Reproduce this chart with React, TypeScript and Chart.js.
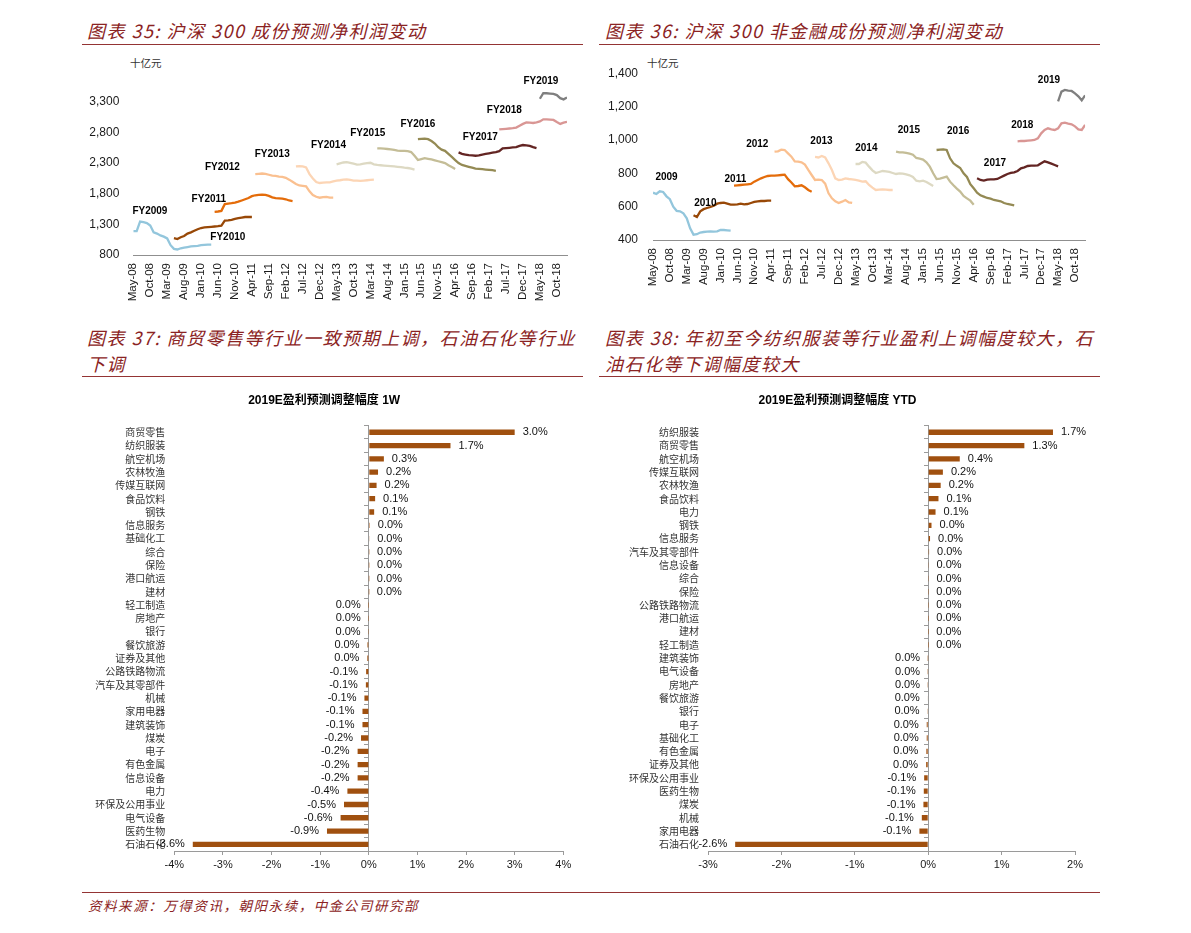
import React, { useEffect, useRef } from 'react';
import { Chart, registerables } from 'chart.js';

Chart.register(...registerables);

const LATIN = '"Liberation Sans", Arial, "Noto Sans CJK SC", sans-serif';
const CJK = '"Noto Sans CJK SC", sans-serif';
const HEAD_RED = '#8B2323';
const RULE_RED = '#943434';

// ---------------- shared monthly x axis (month 0 = May-08) ----------------
const xTickLabels = ['May-08', 'Oct-08', 'Mar-09', 'Aug-09', 'Jan-10', 'Jun-10', 'Nov-10', 'Apr-11', 'Sep-11', 'Feb-12', 'Jul-12', 'Dec-12', 'May-13', 'Oct-13', 'Mar-14', 'Aug-14', 'Jan-15', 'Jun-15', 'Nov-15', 'Apr-16', 'Sep-16', 'Feb-17', 'Jul-17', 'Dec-17', 'May-18', 'Oct-18'];
const xTickStep = 5;
const xMonthMax = 128;
const fyStarts = [0, 12, 24, 36, 48, 60, 72, 84, 96, 108, 120];
const fyColors = ['#93C6DC', '#984807', '#E46C0A', '#FAC090', '#FCD5B5', '#DDD9C3', '#C4BD97', '#948A54', '#632523', '#D99694', '#7F7F7F'];

// ---------------- 图表35 沪深300 (十亿元) ----------------
const hsNames = ['FY2009', 'FY2010', 'FY2011', 'FY2012', 'FY2013', 'FY2014', 'FY2015', 'FY2016', 'FY2017', 'FY2018', 'FY2019'];
const hsFY2009 = [1190, 1190, 1345, 1335, 1320, 1280, 1170, 1150, 1120, 1100, 1070, 960, 900, 890, 910, 920, 930, 940, 945, 950, 960, 965, 970, 970];
const hsFY2010 = [1075, 1060, 1090, 1110, 1150, 1170, 1195, 1220, 1240, 1250, 1255, 1260, 1265, 1270, 1280, 1360, 1365, 1375, 1390, 1400, 1410, 1420, 1420, 1420];
const hsFY2011 = [1505, 1510, 1520, 1630, 1640, 1645, 1655, 1670, 1690, 1710, 1730, 1760, 1775, 1780, 1785, 1780, 1765, 1740, 1730, 1725, 1720, 1710, 1690, 1680];
const hsFY2012 = [2120, 2125, 2130, 2125, 2110, 2095, 2090, 2080, 2075, 2060, 2030, 1995, 1960, 1935, 1930, 1920, 1840, 1780, 1750, 1735, 1745, 1750, 1735, 1735];
const hsFY2013 = [2245, 2250, 2245, 2230, 2120, 2050, 1990, 1975, 1980, 1985, 1985, 2000, 2015, 2020, 2030, 2035, 2025, 2015, 2015, 2010, 2015, 2020, 2025, 2030];
const hsFY2014 = [2280, 2295, 2310, 2315, 2305, 2290, 2275, 2280, 2290, 2300, 2305, 2280, 2270, 2265, 2260, 2255, 2250, 2245, 2240, 2235, 2225, 2220, 2210, 2195];
const hsFY2015 = [2540, 2540, 2535, 2530, 2525, 2515, 2505, 2500, 2500, 2495, 2480, 2420, 2350, 2365, 2380, 2370, 2360, 2345, 2330, 2315, 2300, 2265, 2235, 2205];
const hsFY2016 = [2690, 2695, 2700, 2690, 2660, 2620, 2560, 2520, 2500, 2450, 2400, 2350, 2300, 2270, 2255, 2240, 2225, 2210, 2205, 2200, 2195, 2190, 2185, 2175];
const hsFY2017 = [2475, 2450, 2440, 2430, 2425, 2420, 2425, 2440, 2450, 2460, 2470, 2480, 2495, 2540, 2545, 2550, 2555, 2560, 2580, 2595, 2590, 2580, 2560, 2545];
const hsFY2018 = [2850, 2855, 2860, 2865, 2870, 2880, 2910, 2940, 2965, 2960, 2955, 2965, 2980, 3015, 3015, 3010, 3005, 2970, 2940, 2960, 2975];
const hsFY2019 = [3350, 3440, 3440, 3435, 3430, 3410, 3360, 3340, 3370];
const hsSeries = [hsFY2009, hsFY2010, hsFY2011, hsFY2012, hsFY2013, hsFY2014, hsFY2015, hsFY2016, hsFY2017, hsFY2018, hsFY2019];
const hsLabelMonth = [4.9, 27.9, 22.3, 26.3, 41, 57.6, 69.2, 84, 102.4, 109.5, 120.3];
const hsLabelValue = [1518, 1082, 1704, 2236, 2449, 2593, 2784, 2928, 2726, 3167, 3635];
const hsYTicks = [800, 1300, 1800, 2300, 2800, 3300];
const hsYMin = 800;
const hsYMax = 3800;

// ---------------- 图表36 沪深300 非金融 (十亿元) ----------------
const nfNames = ['2009', '2010', '2011', '2012', '2013', '2014', '2015', '2016', '2017', '2018', '2019'];
const nf2009 = [684, 676, 692, 688, 662, 645, 600, 575, 572, 560, 530, 470, 432, 435, 445, 448, 450, 452, 450, 452, 460, 460, 458, 456];
const nf2010 = [548, 538, 572, 585, 592, 598, 605, 618, 622, 624, 618, 612, 612, 614, 618, 614, 616, 622, 628, 632, 634, 634, 636, 636];
const nf2011 = [726, 728, 730, 732, 734, 736, 750, 760, 770, 778, 784, 786, 786, 788, 790, 792, 765, 745, 722, 724, 728, 716, 700, 690];
const nf2012 = [930, 932, 942, 940, 920, 900, 872, 870, 866, 852, 820, 790, 760, 762, 760, 738, 680, 650, 632, 622, 630, 640, 626, 622];
const nf2013 = [898, 895, 904, 895, 860, 820, 770, 760, 762, 770, 766, 764, 760, 756, 750, 752, 730, 714, 700, 702, 704, 702, 700, 700];
const nf2014 = [856, 856, 868, 864, 840, 818, 802, 808, 814, 812, 808, 802, 796, 800, 798, 794, 788, 778, 756, 752, 756, 748, 736, 724];
const nf2015 = [930, 926, 926, 922, 918, 912, 892, 888, 882, 866, 840, 800, 766, 768, 774, 780, 750, 728, 708, 690, 664, 650, 636, 612];
const nf2016 = [940, 942, 944, 940, 890, 860, 845, 832, 800, 778, 735, 710, 684, 668, 660, 652, 648, 640, 636, 632, 622, 616, 612, 608];
const nf2017 = [770, 760, 756, 762, 764, 764, 766, 776, 786, 796, 802, 806, 814, 830, 836, 844, 846, 846, 848, 860, 872, 866, 858, 850, 842];
const nf2018 = [992, 994, 994, 996, 998, 1000, 1010, 1040, 1060, 1070, 1064, 1060, 1070, 1100, 1104, 1098, 1094, 1082, 1064, 1060, 1090];
const nf2019 = [1232, 1290, 1300, 1296, 1294, 1280, 1262, 1238, 1268];
const nfSeries = [nf2009, nf2010, nf2011, nf2012, nf2013, nf2014, nf2015, nf2016, nf2017, nf2018, nf2019];
const nfLabelMonth = [4, 15.5, 24.4, 30.9, 49.9, 63.2, 75.8, 90.4, 101.3, 109.4, 117.3];
const nfLabelValue = [776, 620, 764, 974, 990, 950, 1056, 1050, 860, 1090, 1356];
const nfYTicks = [400, 600, 800, 1000, 1200, 1400];
const nfYMin = 400;
const nfYMax = 1400;

// ---------------- 图表37 2019E 盈利预测调整幅度 1W (%) ----------------
const weekCats = ['商贸零售', '纺织服装', '航空机场', '农林牧渔', '传媒互联网', '食品饮料', '钢铁', '信息服务', '基础化工', '综合', '保险', '港口航运', '建材', '轻工制造', '房地产', '银行', '餐饮旅游', '证券及其他', '公路铁路物流', '汽车及其零部件', '机械', '家用电器', '建筑装饰', '煤炭', '电子', '有色金属', '信息设备', '电力', '环保及公用事业', '电气设备', '医药生物', '石油石化'];
const weekVals = [3.0, 1.68, 0.31, 0.19, 0.16, 0.13, 0.11, 0.02, 0.007, 0.003, 0.002, 0.001, 0.0005, -0.001, -0.002, -0.004, -0.027, -0.03, -0.055, -0.06, -0.09, -0.13, -0.13, -0.16, -0.23, -0.23, -0.23, -0.44, -0.51, -0.58, -0.86, -3.62];
const weekXTicks = [-4, -3, -2, -1, 0, 1, 2, 3, 4];

// ---------------- 图表38 2019E 盈利预测调整幅度 YTD (%) ----------------
const ytdCats = ['纺织服装', '商贸零售', '航空机场', '传媒互联网', '农林牧渔', '食品饮料', '电力', '钢铁', '信息服务', '汽车及其零部件', '信息设备', '综合', '保险', '公路铁路物流', '港口航运', '建材', '轻工制造', '建筑装饰', '电气设备', '房地产', '餐饮旅游', '银行', '电子', '基础化工', '有色金属', '证券及其他', '环保及公用事业', '医药生物', '煤炭', '机械', '家用电器', '石油石化'];
const ytdVals = [1.70, 1.31, 0.43, 0.2, 0.17, 0.14, 0.1, 0.045, 0.025, 0.012, 0.004, 0.003, 0.002, 0.002, 0.001, 0.001, 0.0005, -0.001, -0.002, -0.003, -0.006, -0.01, -0.02, -0.02, -0.025, -0.028, -0.055, -0.06, -0.065, -0.087, -0.12, -2.63];
const ytdXTicks = [-3, -2, -1, 0, 1, 2];

const BAR_COLOR = '#A0500F';

function fmtPct(v: number) {
  return (Math.abs(v) < 0.05 ? '0.0' : v.toFixed(1)) + '%';
}

function fyLabelPlugin(names: string[], months: number[], values: number[]) {
  return {
    id: 'fyLabels',
    afterDatasetsDraw(chart: any) {
      const { ctx, scales } = chart;
      ctx.save();
      ctx.font = `bold 10px ${LATIN}`;
      ctx.fillStyle = '#000';
      ctx.textAlign = 'center';
      ctx.textBaseline = 'middle';
      names.forEach((t, i) => {
        ctx.fillText(t, scales.x.getPixelForValue(months[i]), scales.y.getPixelForValue(values[i]));
      });
      ctx.restore();
    },
  };
}

const barLabelPlugin = {
  id: 'barLabels',
  afterDatasetsDraw(chart: any) {
    const { ctx } = chart;
    const meta = chart.getDatasetMeta(0);
    const vals = chart.data.datasets[0].data as number[];
    ctx.save();
    ctx.font = `11px ${LATIN}`;
    ctx.fillStyle = '#111';
    ctx.textBaseline = 'middle';
    meta.data.forEach((bar: any, i: number) => {
      const v = vals[i];
      if (v >= 0) {
        ctx.textAlign = 'left';
        ctx.fillText(fmtPct(v), bar.x + 8, bar.y);
      } else {
        ctx.textAlign = 'right';
        ctx.fillText(fmtPct(v), bar.x - 8, bar.y);
      }
    });
    ctx.restore();
  },
};

type LineGeo = { left: number; top: number; w: number; h: number; yWidth: number; yPad: number; xHeight: number; padTop: number; padRight: number };

function LineChart(props: { series: number[][]; names: string[]; labelMonth: number[]; labelValue: number[]; yTicks: number[]; yMin: number; yMax: number; geo: LineGeo }) {
  const ref = useRef<HTMLCanvasElement>(null);
  useEffect(() => {
    const { series, names, labelMonth, labelValue, yTicks, yMin, yMax, geo } = props;
    const datasets = series.map((vals, k) => ({
      label: names[k],
      data: vals.map((v, i) => ({ x: fyStarts[k] + i, y: v })),
      borderColor: fyColors[k],
      backgroundColor: fyColors[k],
      borderWidth: 2.3,
      pointRadius: 0,
      tension: 0,
      fill: false,
    }));
    const chart = new Chart(ref.current as HTMLCanvasElement, {
      type: 'line',
      data: { datasets },
      options: {
        animation: false,
        responsive: false,
        maintainAspectRatio: false,
        layout: { padding: { top: geo.padTop, right: geo.padRight, left: 0, bottom: 0 } },
        plugins: { legend: { display: false }, tooltip: { enabled: false }, title: { display: false } },
        scales: {
          x: {
            type: 'linear',
            min: 0,
            max: xMonthMax,
            afterBuildTicks: (s: any) => {
              s.ticks = xTickLabels.map((_, i) => ({ value: i * xTickStep }));
            },
            afterFit: (s: any) => {
              s.height = geo.xHeight;
            },
            ticks: {
              autoSkip: false,
              minRotation: 90,
              maxRotation: 90,
              padding: 8,
              color: '#1a1a1a',
              font: { family: LATIN, size: 11.5 },
              callback: (_v: any, i: number) => xTickLabels[i],
            },
            grid: { display: false, drawTicks: false },
            border: { display: true, color: '#8f8f8f', width: 1 },
          },
          y: {
            type: 'linear',
            min: yMin,
            max: yMax,
            afterBuildTicks: (s: any) => {
              s.ticks = yTicks.map((v) => ({ value: v }));
            },
            afterFit: (s: any) => {
              s.width = geo.yWidth;
            },
            ticks: {
              padding: geo.yPad,
              color: '#1a1a1a',
              font: { family: LATIN, size: 12 },
              callback: (v: any) => Number(v).toLocaleString('en-US'),
            },
            grid: { display: false, drawTicks: false },
            border: { display: false },
          },
        },
      } as any,
      plugins: [fyLabelPlugin(names, labelMonth, labelValue)],
    });
    return () => chart.destroy();
  }, []);
  const g = props.geo;
  return <canvas ref={ref} width={g.w} height={g.h} style={{ position: 'absolute', left: g.left, top: g.top, width: g.w, height: g.h }} />;
}

type BarGeo = { left: number; top: number; w: number; h: number; yWidth: number; padRight: number; xHeight: number };

function BarChart(props: { title: string; cats: string[]; vals: number[]; xTicks: number[]; geo: BarGeo }) {
  const ref = useRef<HTMLCanvasElement>(null);
  useEffect(() => {
    const { title, cats, vals, xTicks, geo } = props;
    const chart = new Chart(ref.current as HTMLCanvasElement, {
      type: 'bar',
      data: {
        labels: cats,
        datasets: [
          {
            data: vals,
            backgroundColor: BAR_COLOR,
            barPercentage: 0.4,
            categoryPercentage: 1,
            xAxisID: 'x',
            yAxisID: 'y',
          },
        ],
      },
      options: {
        indexAxis: 'y',
        animation: false,
        responsive: false,
        maintainAspectRatio: false,
        layout: { padding: { top: 0, right: geo.padRight, left: 0, bottom: 0 } },
        plugins: {
          legend: { display: false },
          tooltip: { enabled: false },
          title: {
            display: true,
            text: title,
            color: '#000',
            font: { family: LATIN, size: 12, weight: 'bold' },
            padding: { top: 3, bottom: 18.2 },
          },
        },
        scales: {
          x: {
            type: 'linear',
            min: xTicks[0],
            max: xTicks[xTicks.length - 1],
            afterBuildTicks: (s: any) => {
              s.ticks = xTicks.map((v) => ({ value: v }));
            },
            afterFit: (s: any) => {
              s.height = geo.xHeight;
            },
            ticks: {
              padding: 3,
              color: '#1a1a1a',
              font: { family: LATIN, size: 11 },
              callback: (v: any) => `${v}%`,
            },
            grid: { display: true, drawOnChartArea: false, drawTicks: true, tickLength: 4, color: '#9a9a9a' },
            border: { display: true, color: '#9a9a9a', width: 1 },
          },
          y: {
            type: 'category',
            position: 'left',
            afterFit: (s: any) => {
              s.width = geo.yWidth;
            },
            ticks: { autoSkip: false, padding: 9, color: '#333', font: { family: CJK, size: 10 } },
            grid: { display: false, drawTicks: false },
            border: { display: false },
          },
          yz: {
            type: 'category',
            axis: 'y',
            position: { x: 0 },
            offset: true,
            ticks: { display: false },
            grid: { display: true, drawOnChartArea: false, drawTicks: true, tickLength: 4, offset: true, color: '#9a9a9a' },
            border: { display: true, color: '#9a9a9a', width: 1 },
          },
        },
      } as any,
      plugins: [barLabelPlugin],
    });
    return () => chart.destroy();
  }, []);
  const g = props.geo;
  return <canvas ref={ref} width={g.w} height={g.h} style={{ position: 'absolute', left: g.left, top: g.top, width: g.w, height: g.h }} />;
}

function Heading(props: { x: number; y: number; lines: string[] }) {
  return (
    <div
      style={{
        position: 'absolute',
        left: props.x,
        top: props.y,
        fontFamily: CJK,
        fontStyle: 'italic',
        fontSize: 18,
        lineHeight: '26px',
        letterSpacing: '1.5px',
        color: HEAD_RED,
        whiteSpace: 'pre',
      }}
    >
      {props.lines.map((l, i) => (
        <div key={i}>{l}</div>
      ))}
    </div>
  );
}

function Rule(props: { x: number; y: number; w: number }) {
  return <div style={{ position: 'absolute', left: props.x, top: props.y, width: props.w, height: 1, background: RULE_RED }} />;
}

function Unit(props: { x: number; y: number }) {
  return (
    <div style={{ position: 'absolute', left: props.x, top: props.y, fontFamily: CJK, fontSize: 10.5, lineHeight: '14px', color: '#333' }}>十亿元</div>
  );
}

export default function App() {
  return (
    <div style={{ position: 'absolute', left: 0, top: 0, width: 1191, height: 933, background: '#fff', overflow: 'hidden' }}>
      <Heading x={87} y={17} lines={['图表 35: 沪深 300 成份预测净利润变动']} />
      <Heading x={605} y={17} lines={['图表 36: 沪深 300 非金融成份预测净利润变动']} />
      <Rule x={82} y={44} w={501} />
      <Rule x={599} y={44} w={501} />
      <Unit x={130} y={56} />
      <Unit x={647} y={56} />
      <LineChart
        series={hsSeries}
        names={hsNames}
        labelMonth={hsLabelMonth}
        labelValue={hsLabelValue}
        yTicks={hsYTicks}
        yMin={hsYMin}
        yMax={hsYMax}
        geo={{ left: 82, top: 50, w: 500, h: 255, yWidth: 51.3, yPad: 14, xHeight: 50, padTop: 17, padRight: 15 }}
      />
      <LineChart
        series={nfSeries}
        names={nfNames}
        labelMonth={nfLabelMonth}
        labelValue={nfLabelValue}
        yTicks={nfYTicks}
        yMin={nfYMin}
        yMax={nfYMax}
        geo={{ left: 600, top: 50, w: 500, h: 255, yWidth: 53, yPad: 15, xHeight: 65, padTop: 23.3, padRight: 14.9 }}
      />
      <Heading x={87} y={324} lines={['图表 37: 商贸零售等行业一致预期上调，石油石化等行业', '下调']} />
      <Heading x={605} y={324} lines={['图表 38: 年初至今纺织服装等行业盈利上调幅度较大，石', '油石化等下调幅度较大']} />
      <Rule x={82} y={376} w={501} />
      <Rule x={599} y={376} w={501} />
      <BarChart
        title="2019E盈利预测调整幅度 1W"
        cats={weekCats}
        vals={weekVals}
        xTicks={weekXTicks}
        geo={{ left: 85, top: 390, w: 497, h: 485, yWidth: 89.3, padRight: 18.7, xHeight: 24 }}
      />
      <BarChart
        title="2019E盈利预测调整幅度 YTD"
        cats={ytdCats}
        vals={ytdVals}
        xTicks={ytdXTicks}
        geo={{ left: 600, top: 390, w: 500, h: 485, yWidth: 108, padRight: 25, xHeight: 24 }}
      />
      <Rule x={82} y={892} w={1018} />
      <div
        style={{
          position: 'absolute',
          left: 88,
          top: 895,
          fontFamily: CJK,
          fontStyle: 'italic',
          fontSize: 13.5,
          lineHeight: '20px',
          letterSpacing: '1.55px',
          color: HEAD_RED,
          whiteSpace: 'pre',
        }}
      >
        资料来源：万得资讯，朝阳永续，中金公司研究部
      </div>
    </div>
  );
}
